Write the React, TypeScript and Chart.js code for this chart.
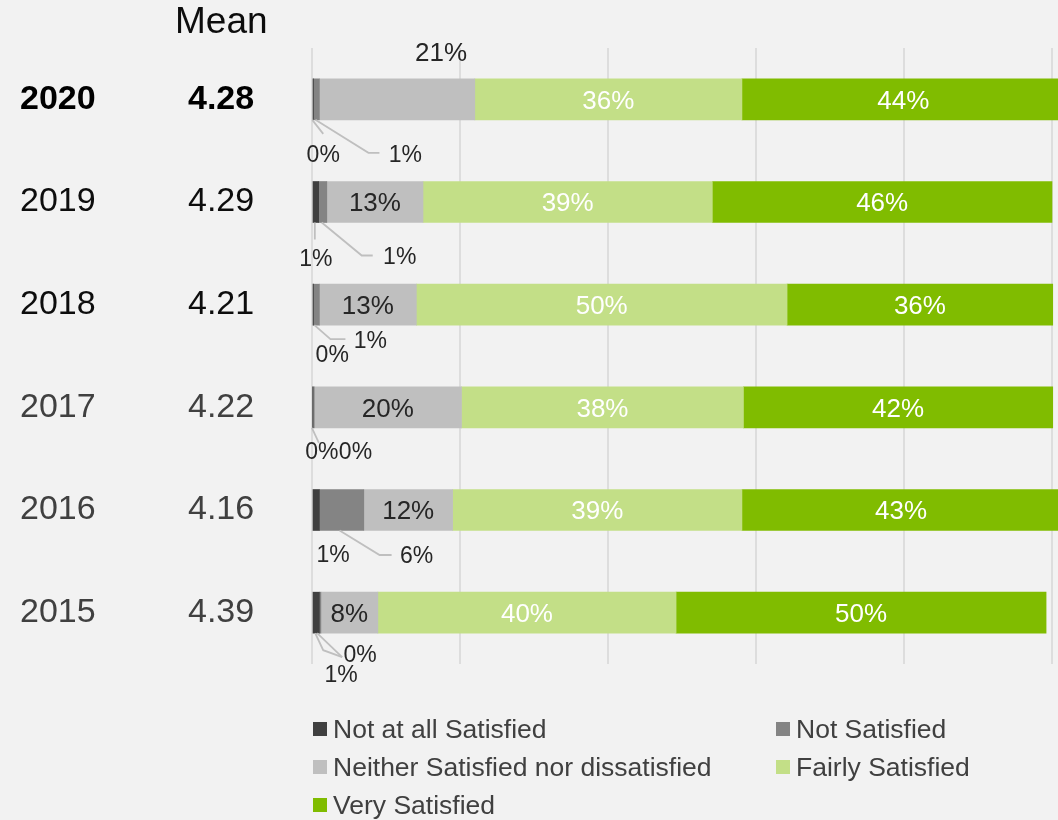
import { useEffect, useRef } from "react";
import { Chart, registerables } from "chart.js";

Chart.register(...registerables);

// ---------- data ----------
const years = ["2020", "2019", "2018", "2017", "2016", "2015"];
const means = ["4.28", "4.29", "4.21", "4.22", "4.16", "4.39"];
const seriesNames = [
  "Not at all Satisfied",
  "Not Satisfied",
  "Neither Satisfied nor dissatisfied",
  "Fairly Satisfied",
  "Very Satisfied",
];
const notAtAll = [0.2, 0.9, 0.2, 0.1, 1.0, 1.0];
const notSatisfied = [0.8, 1.1, 0.8, 0.2, 6.0, 0.2];
const neither = [21.0, 13.0, 13.1, 19.9, 12.0, 7.7];
const fairly = [36.1, 39.1, 50.1, 38.1, 39.1, 40.3];
const very = [43.6, 45.9, 35.9, 41.8, 43.0, 50.0];
const xTicks = [0, 20, 40, 60, 80, 100];

// ---------- styles ----------
const FONT = '"Liberation Sans", Arial, Helvetica, sans-serif';
const colors = ["#404040", "#848484", "#bfbfbf", "#c3df87", "#80bc00"];
const labelColors = ["#262626", "#262626", "#262626", "#ffffff", "#ffffff"];
const rowColors = ["#000000", "#0d0d0d", "#0d0d0d", "#404040", "#404040", "#404040"];
const boldRow = 0;

// callout placement for small segments (offsets relative to segment centre / bar bottom)
type Callout = { line?: number[][]; label: number[]; big?: boolean };
const callouts: Record<string, Callout> = {
  "0-0": { line: [[-1, 0], [10, 14]], label: [10, 36] },
  "0-1": { line: [[-1, 0], [52, 33], [63, 33]], label: [89, 36] },
  "0-2": { label: [44, -66], big: true },
  "1-0": { line: [[-1, 0], [-1, 17]], label: [0, 37] },
  "1-1": { line: [[-1, 0], [39, 33], [50, 33]], label: [77, 35] },
  "2-0": { label: [19, 30] },
  "2-1": { line: [[-2, 0], [14, 14], [29, 14]], label: [54, 16] },
  "3-0": { line: [[-1, 0], [6, 15]], label: [9, 25] },
  "3-1": { label: [42, 25] },
  "4-0": { label: [17, 25.5] },
  "4-1": { line: [[-2, 0], [38, 24.5], [50, 24.5]], label: [75, 26.5] },
  "5-0": { line: [[-1, 0], [7, 17], [26, 24]], label: [25, 42] },
  "5-1": { line: [[-3, 0], [22, 24]], label: [40, 22] },
};

const legendSlots = [
  [313, 729],
  [776, 729],
  [313, 767],
  [776, 767],
  [313, 805],
];

const bgPlugin = {
  id: "bg",
  beforeDraw(chart: any) {
    const { ctx, width, height } = chart;
    ctx.save();
    ctx.fillStyle = "#f2f2f2";
    ctx.fillRect(0, 0, width, height);
    ctx.restore();
  },
};

const labelPlugin = {
  id: "segLabels",
  afterDatasetsDraw(chart: any) {
    const ctx = chart.ctx;
    ctx.save();
    chart.data.datasets.forEach((ds: any, di: number) => {
      const meta = chart.getDatasetMeta(di);
      meta.data.forEach((el: any, ri: number) => {
        const p = el.getProps(["x", "y", "base", "height"], true);
        const v = ds.data[ri];
        const text = Math.round(v) + "%";
        const cx = (p.x + p.base) / 2;
        const bottom = p.y + p.height / 2;
        const co = callouts[`${ri}-${di}`];
        ctx.textAlign = "center";
        ctx.textBaseline = "middle";
        if (co) {
          if (co.line) {
            ctx.strokeStyle = "#bfbfbf";
            ctx.lineWidth = 1.8;
            ctx.beginPath();
            co.line.forEach((pt, k) => {
              const X = cx + pt[0];
              const Y = bottom + pt[1];
              if (k === 0) ctx.moveTo(X, Y);
              else ctx.lineTo(X, Y);
            });
            ctx.stroke();
          }
          ctx.fillStyle = "#262626";
          ctx.font = `${co.big ? 26 : 23}px ${FONT}`;
          ctx.fillText(text, cx + co.label[0], bottom + co.label[1]);
        } else {
          ctx.fillStyle = labelColors[di];
          ctx.font = `26px ${FONT}`;
          ctx.fillText(text, cx, p.y + 2);
        }
      });
    });
    ctx.restore();
  },
};

const sidePlugin = {
  id: "sideText",
  afterDraw(chart: any) {
    const ctx = chart.ctx;
    const yScale = chart.scales.y;
    ctx.save();
    ctx.textBaseline = "middle";
    ctx.textAlign = "left";
    ctx.fillStyle = "#0d0d0d";
    ctx.font = `37px ${FONT}`;
    ctx.fillText("Mean", 175, 23);
    years.forEach((yr, i) => {
      const y = yScale.getPixelForValue(i);
      ctx.font = `${i === boldRow ? "bold " : ""}34px ${FONT}`;
      ctx.fillStyle = rowColors[i];
      ctx.fillText(yr, 20, y);
      ctx.fillText(means[i], 188, y);
    });
    // legend
    ctx.font = `26.5px ${FONT}`;
    seriesNames.forEach((name, i) => {
      const [lx, ly] = legendSlots[i];
      ctx.fillStyle = colors[i];
      ctx.fillRect(lx, ly - 7, 14, 14);
      ctx.fillStyle = "#404040";
      ctx.fillText(name, lx + 20, ly + 1.5);
    });
    ctx.restore();
  },
};

export default function App() {
  const ref = useRef<HTMLCanvasElement | null>(null);
  useEffect(() => {
    document.body.style.margin = "0";
    document.body.style.background = "#f2f2f2";
    if (!ref.current) return;
    const series = [notAtAll, notSatisfied, neither, fairly, very];
    const chart = new Chart(ref.current, {
      type: "bar",
      data: {
        labels: years,
        datasets: series.map((d, i) => ({
          label: seriesNames[i],
          data: d,
          backgroundColor: colors[i],
          borderWidth: 0,
          barThickness: 41,
          clip: false as any,
        })),
      },
      options: {
        indexAxis: "y",
        responsive: false,
        maintainAspectRatio: false,
        animation: false,
        devicePixelRatio: 1,
        layout: { padding: { left: 312, right: 6, top: 48, bottom: 156 } },
        plugins: {
          legend: { display: false },
          tooltip: { enabled: false },
        },
        scales: {
          x: {
            stacked: true,
            min: 0,
            max: 100,
            afterBuildTicks: (scale: any) => {
              scale.ticks = xTicks.map((v) => ({ value: v }));
            },
            ticks: { display: false },
            grid: { color: "#dddddd", lineWidth: 2, drawTicks: false },
            border: { display: false },
          },
          y: {
            type: "category",
            stacked: true,
            display: false,
          },
        },
      },
      plugins: [bgPlugin, labelPlugin, sidePlugin],
    });
    return () => chart.destroy();
  }, []);
  return (
    <div style={{ position: "absolute", left: 0, top: 0, width: 1058, height: 820 }}>
      <canvas ref={ref} width={1058} height={820} style={{ width: 1058, height: 820, display: "block" }} />
    </div>
  );
}
